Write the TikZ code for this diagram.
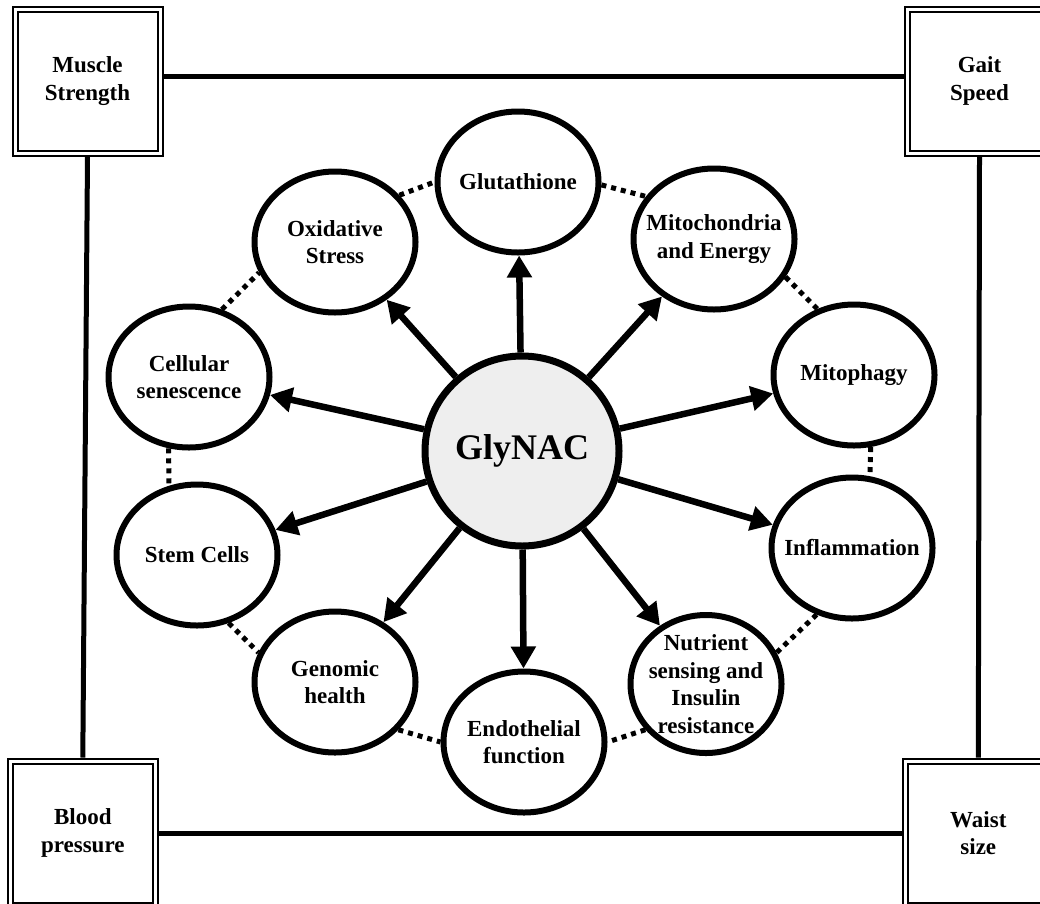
\documentclass[tikz,border=0pt]{standalone}
\usepackage{fontspec}
\setmainfont{Liberation Serif}
\usetikzlibrary{shapes.geometric,arrows.meta}
\begin{document}
\begin{tikzpicture}[x=1pt,y=-1pt,
  corner/.style={draw, double, double distance=3pt, line width=2pt,
    minimum width=145pt, minimum height=144pt, inner sep=0pt, outer sep=3.5pt,
    align=center, font=\fontsize{23}{27.5}\selectfont\bfseries},
  sat/.style={ellipse, draw, line width=6pt, minimum width=161pt,
    minimum height=141pt, inner sep=0pt},
  lbl/.style={align=center, font=\fontsize{23}{27.5}\selectfont\bfseries, inner sep=0pt},
  link/.style={line width=5pt},
  arr/.style={line width=6.5pt, -{Triangle[length=22pt,width=24pt]}},
  ring/.style={line width=5pt, dash pattern=on 5pt off 5pt}]
\useasboundingbox (0,0) rectangle (1040,903);
\clip (0,0) rectangle (1040,903);

% corner boxes
\node[corner] (ms) at (87.5,81) {Muscle\\Strength};
\node[corner] (gs) at (979.5,81) {Gait\\Speed};
\node[corner] (bp) at (82.8,833) {Blood\\pressure};
\node[corner] (ws) at (978.3,833) {Waist\\size};

\draw[link] ([yshift=5pt]ms.east) -- ([yshift=5pt]gs.west);
\draw[link] (bp.east) -- (ws.west);
\draw[link] (ms.south) -- (bp.north);
\draw[link] (gs.south) -- (ws.north);

% central node
\node[ellipse, draw, line width=7pt, fill={rgb,255:red,238;green,238;blue,238},
  minimum width=194pt, minimum height=190pt, inner sep=0pt,
  font=\fontsize{36}{40}\selectfont\bfseries] (gly) at (522,451) {GlyNAC};

% satellites
\node[sat, label={[lbl]center:Glutathione}] (glu) at (518,182) {};
\node[sat, label={[lbl]center:Mitochondria\\and Energy}] (mito) at (714,239) {};
\node[sat, label={[lbl]center:Mitophagy}] (mph) at (854,375) {};
\node[sat, label={[lbl]center:Inflammation}] (infl) at (852,548) {};
\node[sat, minimum width=151pt, minimum height=138pt,
  label={[lbl]center:Nutrient\\sensing and\\Insulin\\resistance}] (nut) at (706,684) {};
\node[sat, label={[lbl]center:Endothelial\\function}] (endo) at (524,742) {};
\node[sat, label={[lbl]center:Genomic\\health}] (gen) at (335,682) {};
\node[sat, label={[lbl]center:Stem Cells}] (stem) at (197,555) {};
\node[sat, label={[lbl]center:Cellular\\senescence}] (cell) at (189,377) {};
\node[sat, label={[lbl]center:Oxidative\\Stress}] (ox) at (335,242) {};

% arrows
\foreach \t in {glu,mito,mph,infl,nut,endo,gen,stem,cell,ox}
  \draw[arr] (gly) -- (\t);

% dotted ring
\draw[ring] (glu.-2) -- (mito.148);
\draw[ring] (ox.36) -- (glu.180);
\draw[ring] (mito.-28) -- (mph.119);
\draw[ring] (mph.-77) -- (infl.76);
\draw[ring] (infl.-118) -- (nut.24);
\draw[ring] (nut.-143) -- (endo.0);
\draw[ring] (gen.-37) -- (endo.180);
\draw[ring] (stem.-65) -- (gen.159);
\draw[ring] (cell.-106) -- (stem.112);
\draw[ring] (cell.64) -- (ox.-158);
\end{tikzpicture}
\end{document}
